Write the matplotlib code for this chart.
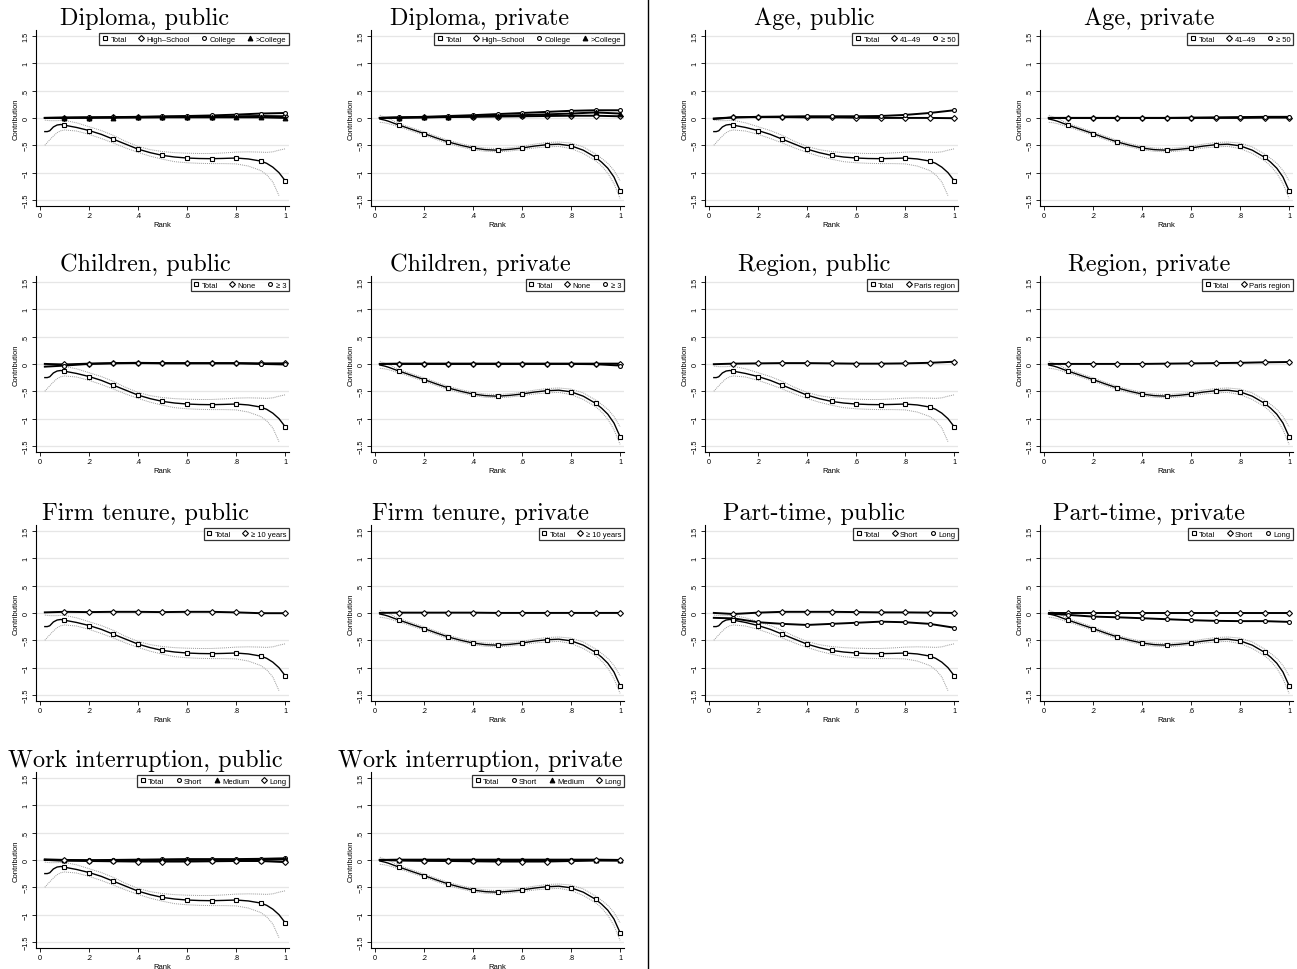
import numpy as np
import matplotlib
matplotlib.use("Agg")
import matplotlib.pyplot as plt
from matplotlib.lines import Line2D

plt.rcParams['font.family'] = ['Liberation Sans', 'DejaVu Sans']

# ---------------------------------------------------------------------------
# data
# ---------------------------------------------------------------------------
# ranks where the component curves / markers are evaluated
RANK = [0.02, 0.1, 0.2, 0.3, 0.4, 0.5, 0.6, 0.7, 0.8, 0.9, 1.0]
# finer rank grid for the total contribution and its confidence band
RANK_FINE = [0.02, 0.03, 0.04, 0.055, 0.07, 0.085, 0.1, 0.15, 0.2, 0.25, 0.3,
             0.35, 0.4, 0.45, 0.5, 0.55, 0.6, 0.65, 0.7, 0.75, 0.8, 0.85,
             0.9, 0.925, 0.95, 0.975, 1.0]

TOTAL_PUB = [-0.25, -0.25, -0.235, -0.165, -0.13, -0.12, -0.133, -0.175, -0.23,
             -0.30, -0.39, -0.48, -0.57, -0.635, -0.685, -0.715, -0.733, -0.742,
             -0.745, -0.74, -0.733, -0.75, -0.788, -0.83, -0.90, -1.0, -1.145]
TOTAL_PUB_HI = [-0.04, -0.045, -0.05, -0.05, -0.05, -0.045, -0.045, -0.09, -0.16,
                -0.23, -0.32, -0.43, -0.52, -0.58, -0.615, -0.635, -0.645, -0.65,
                -0.65, -0.64, -0.625, -0.62, -0.625, -0.63, -0.62, -0.59, -0.565]
TOTAL_PUB_LO = [-0.50, -0.45, -0.40, -0.33, -0.27, -0.235, -0.22, -0.24, -0.30,
                -0.375, -0.46, -0.55, -0.63, -0.70, -0.755, -0.80, -0.82, -0.83,
                -0.835, -0.835, -0.84, -0.88, -0.96, -1.04, -1.17, -1.42, np.nan]

TOTAL_PRIV = [-0.02, -0.03, -0.04, -0.06, -0.085, -0.11, -0.133, -0.21, -0.285,
              -0.365, -0.44, -0.50, -0.55, -0.58, -0.59, -0.575, -0.55, -0.515,
              -0.49, -0.48, -0.51, -0.59, -0.72, -0.81, -0.92, -1.08, -1.33]
TOTAL_PRIV_HI = [0.05, 0.03, 0.015, -0.01, -0.04, -0.075, -0.105, -0.18, -0.255,
                 -0.335, -0.41, -0.47, -0.52, -0.55, -0.56, -0.545, -0.52, -0.48,
                 -0.45, -0.44, -0.46, -0.53, -0.66, -0.74, -0.83, -0.96, -1.15]
TOTAL_PRIV_LO = [-0.08, -0.085, -0.09, -0.105, -0.125, -0.145, -0.165, -0.24, -0.315,
                 -0.395, -0.47, -0.53, -0.58, -0.61, -0.62, -0.605, -0.58, -0.55,
                 -0.53, -0.52, -0.56, -0.65, -0.78, -0.88, -1.01, -1.20, -1.47]

# component contributions (on RANK)
DIP_PUB_HS = [0.0, 0.0, 0.005, 0.01, 0.01, 0.015, 0.02, 0.025, 0.03, 0.035, 0.03]
DIP_PUB_COL = [0.0, 0.005, 0.01, 0.015, 0.02, 0.03, 0.035, 0.045, 0.06, 0.08, 0.09]
DIP_PUB_SUP = [0.0, 0.005, 0.005, 0.005, 0.01, 0.01, 0.01, 0.01, 0.01, 0.01, 0.0]
DIP_PRIV_HS = [0.0, 0.005, 0.01, 0.015, 0.02, 0.025, 0.03, 0.035, 0.04, 0.04, 0.03]
DIP_PRIV_COL = [0.0, 0.01, 0.02, 0.035, 0.05, 0.07, 0.09, 0.11, 0.13, 0.14, 0.14]
DIP_PRIV_SUP = [0.0, 0.005, 0.01, 0.02, 0.03, 0.04, 0.05, 0.065, 0.08, 0.10, 0.08]

AGE_PUB_41 = [-0.02, 0.01, 0.015, 0.015, 0.01, 0.01, 0.005, 0.0, 0.0, 0.0, -0.005]
AGE_PUB_50 = [-0.01, 0.01, 0.02, 0.025, 0.03, 0.03, 0.03, 0.035, 0.055, 0.09, 0.14]
AGE_PRIV_41 = [0.0, 0.0, 0.0, 0.0, 0.0, 0.0, 0.0, 0.0, 0.0, 0.005, 0.005]
AGE_PRIV_50 = [0.0, 0.0, 0.0, 0.0, 0.0, 0.0, 0.005, 0.01, 0.015, 0.02, 0.02]

CHI_PUB_NONE = [0.0, -0.01, 0.005, 0.015, 0.02, 0.015, 0.015, 0.015, 0.015, 0.01, 0.01]
CHI_PUB_3 = [-0.05, -0.03, 0.0, 0.01, 0.015, 0.01, 0.01, 0.01, 0.01, 0.0, -0.01]
CHI_PRIV_NONE = [0.0, 0.005, 0.005, 0.005, 0.005, 0.005, 0.005, 0.005, 0.005, 0.005, 0.005]
CHI_PRIV_3 = [0.0, 0.0, 0.0, 0.0, 0.0, 0.0, 0.0, 0.0, 0.0, -0.005, -0.03]

REG_PUB_PARIS = [-0.005, 0.005, 0.01, 0.015, 0.015, 0.01, 0.005, 0.005, 0.01, 0.02, 0.04]
REG_PRIV_PARIS = [0.0, 0.0, 0.0, 0.0, 0.0, 0.005, 0.01, 0.015, 0.02, 0.03, 0.035]

TEN_PUB_10 = [0.01, 0.02, 0.015, 0.02, 0.02, 0.015, 0.02, 0.02, 0.01, -0.005, -0.005]
TEN_PRIV_10 = [0.0, 0.005, 0.005, 0.005, 0.005, 0.0, 0.0, 0.0, 0.0, 0.0, 0.0]

PT_PUB_SHORT = [0.0, -0.02, 0.005, 0.02, 0.02, 0.02, 0.015, 0.01, 0.01, 0.005, 0.0]
PT_PUB_LONG = [-0.09, -0.10, -0.17, -0.20, -0.22, -0.20, -0.18, -0.16, -0.17, -0.20, -0.27]
PT_PRIV_SHORT = [0.0, 0.0, 0.0, 0.0, 0.0, 0.0, 0.0, 0.0, 0.0, 0.0, 0.0]
PT_PRIV_LONG = [-0.012, -0.036, -0.067, -0.08, -0.097, -0.115, -0.133, -0.145, -0.15, -0.15, -0.164]

WI_PUB_SHORT = [0.01, 0.0, -0.005, 0.0, 0.005, 0.01, 0.015, 0.015, 0.015, 0.02, 0.03]
WI_PUB_MED = [0.0, -0.01, -0.01, -0.01, -0.005, 0.0, 0.0, 0.0, 0.0, 0.0, 0.01]
WI_PUB_LONG = [0.0, -0.01, -0.02, -0.025, -0.03, -0.03, -0.03, -0.025, -0.02, -0.02, -0.04]
WI_PRIV_SHORT = [0.0, 0.005, 0.005, 0.005, 0.005, 0.005, 0.005, 0.005, 0.005, 0.005, 0.0]
WI_PRIV_MED = [0.0, -0.005, -0.01, -0.01, -0.01, -0.01, -0.01, -0.01, -0.01, -0.005, -0.01]
WI_PRIV_LONG = [0.0, -0.01, -0.015, -0.02, -0.025, -0.03, -0.03, -0.03, -0.02, -0.01, -0.01]

YTICKS = [-1.5, -1, -0.5, 0, 0.5, 1, 1.5]
YTICK_LABELS = ['\u22121.5', '\u22121', '\u2212.5', '0', '.5', '1', '1.5']
XTICKS = [0, 0.2, 0.4, 0.6, 0.8, 1]
XTICK_LABELS = ['0', '.2', '.4', '.6', '.8', '1']

TOTALS = {
    'public': (TOTAL_PUB, TOTAL_PUB_HI, TOTAL_PUB_LO),
    'private': (TOTAL_PRIV, TOTAL_PRIV_HI, TOTAL_PRIV_LO),
}

# marker styles: (marker, filled)
SQ, DI, CI, TR = ('s', False), ('D', False), ('o', False), ('^', True)

PANELS = [
    ("Diploma, public", 'public', [("High\u2013School", DI, DIP_PUB_HS), ("College", CI, DIP_PUB_COL), (">College", TR, DIP_PUB_SUP)]),
    ("Diploma, private", 'private', [("High\u2013School", DI, DIP_PRIV_HS), ("College", CI, DIP_PRIV_COL), (">College", TR, DIP_PRIV_SUP)]),
    ("Age, public", 'public', [("41\u201349", DI, AGE_PUB_41), ("\u2265 50", CI, AGE_PUB_50)]),
    ("Age, private", 'private', [("41\u201349", DI, AGE_PRIV_41), ("\u2265 50", CI, AGE_PRIV_50)]),
    ("Children, public", 'public', [("None", DI, CHI_PUB_NONE), ("\u2265 3", CI, CHI_PUB_3)]),
    ("Children, private", 'private', [("None", DI, CHI_PRIV_NONE), ("\u2265 3", CI, CHI_PRIV_3)]),
    ("Region, public", 'public', [("Paris region", DI, REG_PUB_PARIS)]),
    ("Region, private", 'private', [("Paris region", DI, REG_PRIV_PARIS)]),
    ("Firm tenure, public", 'public', [("\u2265 10 years", DI, TEN_PUB_10)]),
    ("Firm tenure, private", 'private', [("\u2265 10 years", DI, TEN_PRIV_10)]),
    ("Part-time, public", 'public', [("Short", DI, PT_PUB_SHORT), ("Long", CI, PT_PUB_LONG)]),
    ("Part-time, private", 'private', [("Short", DI, PT_PRIV_SHORT), ("Long", CI, PT_PRIV_LONG)]),
    ("Work interruption, public", 'public', [("Short", CI, WI_PUB_SHORT), ("Medium", TR, WI_PUB_MED), ("Long", DI, WI_PUB_LONG)]),
    ("Work interruption, private", 'private', [("Short", CI, WI_PRIV_SHORT), ("Medium", TR, WI_PRIV_MED), ("Long", DI, WI_PRIV_LONG)]),
]

# ---------------------------------------------------------------------------
# layout (pixels)
# ---------------------------------------------------------------------------
W, H = 1297, 970
COL_LEFT = [36, 371, 705, 1040]
ROW_BOTTOM = [207, 453, 702, 949]
AX_W, AX_H = 253, 176


def mstyle(style):
    m, filled = style
    size = {'s': 3.4, 'D': 3.0, 'o': 2.8, '^': 3.4}[m]
    return dict(marker=m, markersize=size, markeredgewidth=0.8,
                markeredgecolor='black',
                markerfacecolor='black' if filled else 'white')


def draw_panel(ax, title, sector, comps):
    tot, hi, lo = TOTALS[sector]
    mark_idx = [RANK_FINE.index(r) for r in RANK[1:]]

    ax.plot(RANK_FINE, hi, color='#9a9a9a', lw=0.7, ls=(0, (1, 1)), zorder=2)
    ax.plot(RANK_FINE, lo, color='#9a9a9a', lw=0.7, ls=(0, (1, 1)), zorder=2)

    handles = [Line2D([], [], ls='none', **mstyle(SQ))]
    labels = ["Total"]
    for lab, st, vals in comps:
        ax.plot(RANK, vals, color='black', lw=1.4, markevery=list(range(1, len(RANK))),
                zorder=3, **mstyle(st))
        handles.append(Line2D([], [], ls='none', **mstyle(st)))
        labels.append(lab)

    ax.plot(RANK_FINE, tot, color='black', lw=1.0, markevery=mark_idx,
            zorder=4, **mstyle(SQ))

    ax.set_xlim(-0.016, 1.016)
    ax.set_ylim(-1.61, 1.607)
    ax.set_yticks(YTICKS)
    ax.set_yticklabels(YTICK_LABELS, rotation=90, va='center')
    ax.set_xticks(XTICKS)
    ax.set_xticklabels(XTICK_LABELS)
    ax.tick_params(labelsize=5.2, length=3, width=0.6, pad=1.5)
    ax.set_xlabel("Rank", fontsize=5.5, labelpad=1)
    ax.set_ylabel("Contribution", fontsize=5.5, labelpad=2)
    ax.yaxis.grid(True, color='#e6e6e6', lw=0.9)
    ax.set_axisbelow(True)
    for side in ('top', 'right'):
        ax.spines[side].set_visible(False)
    for side in ('left', 'bottom'):
        ax.spines[side].set_linewidth(0.8)

    leg = ax.legend(handles, labels, loc='upper right', bbox_to_anchor=(1.0, 0.985),
                    ncol=len(labels), fontsize=5.5, frameon=True, fancybox=False,
                    borderpad=0.35, columnspacing=1.5, handletextpad=0.3,
                    handlelength=0.8, borderaxespad=0.0)
    leg.get_frame().set_edgecolor('black')
    leg.get_frame().set_linewidth(0.9)


fig = plt.figure(figsize=(W / 100, H / 100), dpi=100)
fig.patch.set_facecolor('white')

for i, (title, sector, comps) in enumerate(PANELS):
    row, col = divmod(i, 4)
    l, b = COL_LEFT[col], ROW_BOTTOM[row]
    ax = fig.add_axes([l / W, 1 - b / H, AX_W / W, AX_H / H])
    draw_panel(ax, title, sector, comps)
    fig.text((l + 109) / W, 1 - (b - AX_H - 12) / H, title, ha='center', va='center',
             family='cmr10', fontsize=17.5)

# separator between the left and right halves
fig.add_artist(Line2D([648 / W, 648 / W], [0, 1], color='black', lw=1.0,
                      transform=fig.transFigure))

fig.savefig("out.png", dpi=100)
